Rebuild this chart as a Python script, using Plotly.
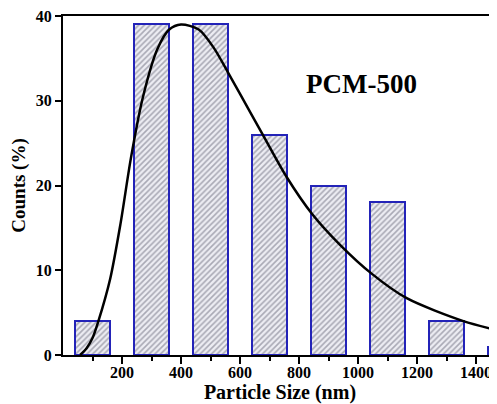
import plotly.graph_objects as go

# Histogram data (bin centers in nm, counts in %)
bin_centers = [100, 300, 500, 700, 900, 1100, 1300, 1500]
counts = [4, 39, 39, 26, 20, 18, 4, 1]
bar_width = 120

# Fitted distribution curve
fit_x = [58, 80, 100, 120, 160, 195, 230, 270, 320, 360, 400, 460, 510,
         560, 600, 677, 758, 843, 939, 1046, 1165, 1357, 1475]
fit_y = [0, 0.8, 2.0, 4.0, 9.0, 15.5, 23.2, 30.3, 36.1, 38.4, 39.0, 38.4, 36.3,
         33.3, 30.8, 26.0, 21.0, 16.7, 13.0, 9.6, 6.7, 4.0, 2.9]

x_ticks = [200, 400, 600, 800, 1000, 1200, 1400]
y_ticks = [0, 10, 20, 30, 40]
label = "PCM-500"

FONT = "Liberation Serif"

fig = go.Figure()
fig.add_trace(go.Bar(
    x=bin_centers, y=counts, width=bar_width,
    marker=dict(
        color="#ededf3",
        line=dict(color="#2323b8", width=2),
        pattern=dict(shape="/", fgcolor="#666678", bgcolor="#ededf3",
                     size=4, solidity=0.4),
    ),
    showlegend=False,
))
fig.add_trace(go.Scatter(
    x=fit_x, y=fit_y, mode="lines",
    line=dict(color="black", width=2.5, shape="spline", smoothing=0.8),
    showlegend=False,
))

fig.add_annotation(
    x=0.82, y=0.85, xref="paper", yref="paper",
    text="<b>%s</b>" % label, showarrow=False,
    font=dict(family=FONT, size=27, color="black"),
)

fig.update_xaxes(
    range=[0, 1471],
    tickvals=x_ticks,
    ticks="outside", ticklen=7, tickwidth=2, tickcolor="black",
    minor=dict(dtick=200, tick0=100, ticks="outside", ticklen=4,
               tickwidth=2, tickcolor="black"),
    showline=True, linecolor="black", linewidth=2, mirror=True,
    showgrid=False, zeroline=False, automargin=False,
    ticklabelstandoff=-5, ticklabeloverflow="allow",
    tickfont=dict(family=FONT, size=16, color="black", weight="bold"),
    title=dict(text="<b>Particle Size (nm)</b>", standoff=0,
               font=dict(family=FONT, size=20, color="black")),
)
fig.update_yaxes(
    range=[0, 40],
    tickvals=y_ticks,
    ticks="outside", ticklen=6, tickwidth=2, tickcolor="black",
    showline=True, linecolor="black", linewidth=2, mirror=False,
    showgrid=False, zeroline=False, automargin=False,
    ticklabeloverflow="allow",
    tickfont=dict(family=FONT, size=16, color="black", weight="bold"),
    title=dict(text="<b>Counts (%)</b>", standoff=10,
               font=dict(family=FONT, size=19, color="black")),
)

# The page body has an 8px default offset, so the figure is sized to fit.
fig.update_layout(
    width=489, height=396,
    margin=dict(l=55, r=0, t=8, b=49),
    plot_bgcolor="white", paper_bgcolor="white",
    bargap=0,
)

fig.write_html("out.html")
